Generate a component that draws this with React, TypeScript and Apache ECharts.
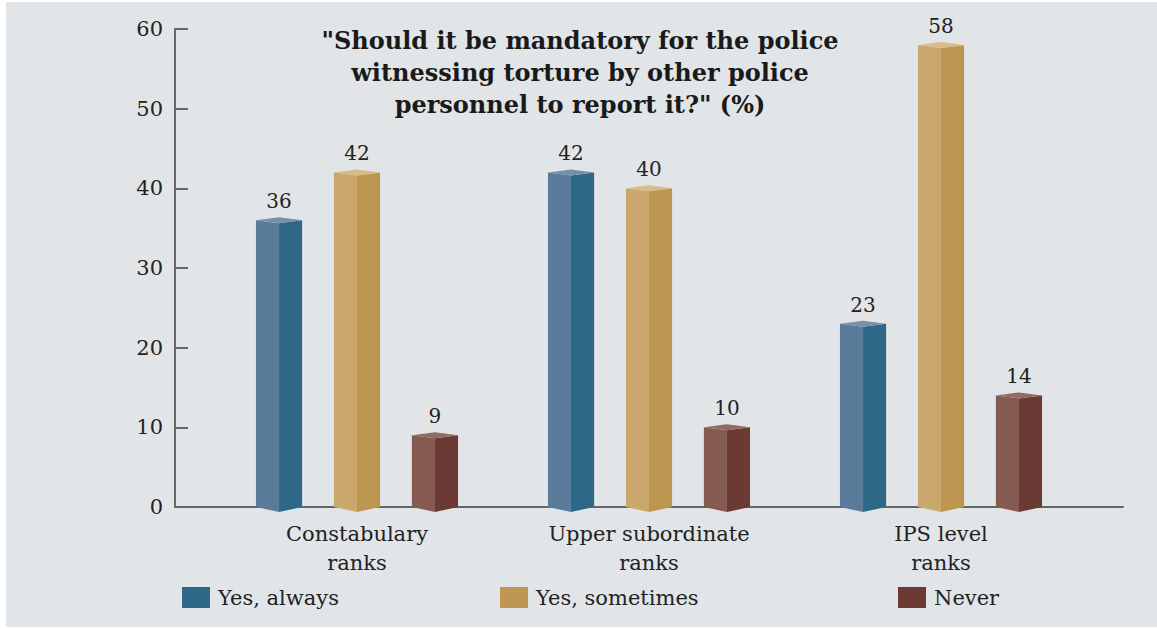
import React, { useEffect, useRef } from "react";
import * as echarts from "echarts";

const categories = ["Constabulary\nranks", "Upper subordinate\nranks", "IPS level\nranks"];
const seriesNames = ["Yes, always", "Yes, sometimes", "Never"];
const yesAlways = [36, 42, 23];
const yesSometimes = [42, 40, 58];
const never = [9, 10, 14];
const yMin = 0;
const yMax = 60;
const yInterval = 10;
const titleText =
  '"Should it be mandatory for the police\nwitnessing torture by other police\npersonnel to report it?" (%)';

const palettes = [
  { left: "#5a7b99", right: "#2d6886", top: "#7690a8", legend: "#2d6886" },
  { left: "#c9a76d", right: "#bd9652", top: "#d8bb86", legend: "#bf9652" },
  { left: "#845a51", right: "#6b3a35", top: "#946a61", legend: "#6b3a35" },
];

const FONT = '"DejaVu Serif", serif';

function makeRender(idx: number, pal: any) {
  return (params: any, api: any) => {
    const ci = api.value(0);
    const v = api.value(1);
    const top = api.coord([ci, v]);
    const base = api.coord([ci, 0]);
    const band = api.size([1, 0])[0];
    const step = band * 0.267;
    const w = band * 0.158;
    const cx = top[0] + (idx - 1) * step;
    const x0 = cx - w / 2;
    const x1 = cx + w / 2;
    const yt = top[1];
    const yb = base[1];
    const d = 3;
    const vb = 5;
    return {
      type: "group",
      children: [
        {
          type: "polygon",
          shape: { points: [[x0, yt], [cx, yt + d], [cx, yb + vb], [x0, yb]] },
          style: { fill: pal.left },
        },
        {
          type: "polygon",
          shape: { points: [[cx, yt + d], [x1, yt], [x1, yb], [cx, yb + vb]] },
          style: { fill: pal.right },
        },
        {
          type: "polygon",
          shape: { points: [[x0, yt], [cx, yt - d], [x1, yt], [cx, yt + d]] },
          style: { fill: pal.top },
        },
        {
          type: "text",
          x: cx,
          y: yt - 9,
          style: {
            text: String(v),
            textAlign: "center",
            textVerticalAlign: "bottom",
            fontSize: 20,
            fontFamily: FONT,
            fill: "#222",
          },
        },
      ],
    };
  };
}

export default function App() {
  const ref = useRef<HTMLDivElement>(null);
  useEffect(() => {
    if (!ref.current) return;
    const chart = echarts.init(ref.current, null, { renderer: "svg" });
    const allData = [yesAlways, yesSometimes, never];
    const legendLefts = [182, 500, 898];
    const option: any = {
      animation: false,
      backgroundColor: "#ffffff",
      graphic: [
        {
          type: "rect",
          z: -100,
          shape: { x: 6, y: 2, width: 1151, height: 625 },
          style: { fill: "#e1e5e8" },
          silent: true,
        },
        {
          type: "text",
          x: 580,
          y: 24,
          z: 10,
          silent: true,
          style: {
            text: titleText,
            textAlign: "center",
            textVerticalAlign: "top",
            fontFamily: FONT,
            fontWeight: "bold",
            fontSize: 24,
            lineHeight: 32,
            fill: "#1a1a1a",
          },
        },
      ],
      legend: seriesNames.map((n, i) => ({
        data: [n],
        left: legendLefts[i],
        top: 587,
        padding: 0,
        itemWidth: 28,
        itemHeight: 21,
        icon: "rect",
        selectedMode: false,
        textStyle: {
          fontFamily: FONT,
          fontSize: 21,
          color: "#222",
          padding: [0, 0, 0, 3],
        },
      })),
      grid: [
        { left: 175, right: 34, top: 29, bottom: 123 },
        { left: 211, right: 70, top: 29, bottom: 123 },
      ],
      xAxis: [
        {
          type: "category",
          gridIndex: 0,
          data: categories,
          axisLine: { lineStyle: { color: "#666", width: 2 } },
          axisTick: { inside: true, length: 8, lineStyle: { color: "#666", width: 2 } },
          axisLabel: { show: false },
        },
        {
          type: "category",
          gridIndex: 1,
          data: categories,
          axisLine: { show: false },
          axisTick: { show: false },
          axisLabel: {
            margin: 12,
            fontFamily: FONT,
            fontSize: 21,
            lineHeight: 29,
            color: "#222",
          },
        },
      ],
      yAxis: [
        {
          type: "value",
          gridIndex: 0,
          min: yMin,
          max: yMax,
          interval: yInterval,
          splitLine: { show: false },
          axisLine: { show: true, lineStyle: { color: "#666", width: 2 } },
          axisTick: { show: true, inside: true, length: 13, lineStyle: { color: "#666", width: 2 } },
          axisLabel: { margin: 12, fontFamily: FONT, fontSize: 21, color: "#222" },
        },
        {
          type: "value",
          gridIndex: 1,
          min: yMin,
          max: yMax,
          interval: yInterval,
          show: false,
          splitLine: { show: false },
        },
      ],
      series: seriesNames.map((n, i) => ({
        name: n,
        type: "custom",
        xAxisIndex: 1,
        yAxisIndex: 1,
        itemStyle: { color: palettes[i].legend },
        encode: { x: 0, y: 1 },
        data: allData[i].map((v, ci) => [ci, v]),
        renderItem: makeRender(i, palettes[i]),
        z: 5,
      })),
    };
    chart.setOption(option);
    return () => chart.dispose();
  }, []);
  return (
    <div
      ref={ref}
      style={{ position: "fixed", left: 0, top: 0, width: 1157, height: 630 }}
    />
  );
}
